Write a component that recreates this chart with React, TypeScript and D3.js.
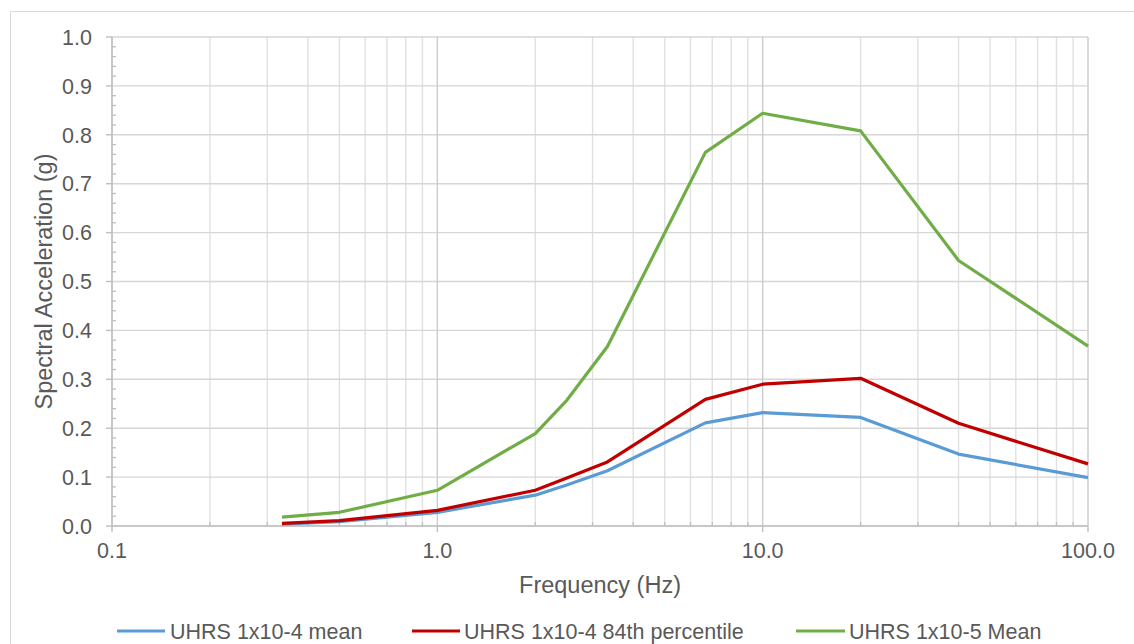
import React from 'react';
import * as d3 from 'd3';

const freqs = [0.333, 0.5, 1.0, 2.0, 2.5, 3.333, 6.667, 10, 20, 40, 100];
const uhrs4Mean = [0.004, 0.009, 0.028, 0.063, 0.084, 0.113, 0.211, 0.232, 0.222, 0.147, 0.099];
const uhrs4P84 = [0.0055, 0.011, 0.032, 0.073, 0.098, 0.131, 0.259, 0.29, 0.302, 0.21, 0.127];
const uhrs5Mean = [0.018, 0.028, 0.073, 0.189, 0.257, 0.367, 0.764, 0.844, 0.808, 0.543, 0.368];

const seriesNames = ['UHRS 1x10-4 mean', 'UHRS 1x10-4 84th percentile', 'UHRS 1x10-5 Mean'];
const seriesColors = ['#5B9BD5', '#C00000', '#70AD47'];
const seriesValues = [uhrs4Mean, uhrs4P84, uhrs5Mean];

const xTickValues = [0.1, 1, 10, 100];
const xTickLabels = ['0.1', '1.0', '10.0', '100.0'];
const yTickValues = [0, 0.1, 0.2, 0.3, 0.4, 0.5, 0.6, 0.7, 0.8, 0.9, 1.0];

const W = 1134;
const H = 644;
const M = { left: 112, right: 1088, top: 37, bottom: 526 };
const FONT = '"Liberation Sans", Arial, sans-serif';
const TXT = '#595959';

export default function App() {
  const x = d3.scaleLog().domain([0.1, 100]).range([M.left, M.right]);
  const y = d3.scaleLinear().domain([0, 1]).range([M.bottom, M.top]);

  const minorX: number[] = [];
  for (let d = 0.1; d < 100; d *= 10) {
    for (let k = 2; k <= 9; k++) minorX.push(d * k);
  }
  const minorY: number[] = d3.range(0, 50).map((i) => i * 0.02).filter((v) => Math.round(v * 50) % 5 !== 0);

  const line = d3
    .line<number>()
    .x((_, i) => x(freqs[i]))
    .y((v) => y(v));

  const legendItems = [
    { x1: 117, x2: 165, tx: 170 },
    { x1: 412, x2: 460, tx: 464 },
    { x1: 796, x2: 845, tx: 849 },
  ];

  return (
    <svg width={W} height={H} style={{ position: 'absolute', left: 0, top: 0, background: '#fff' }} fontFamily={FONT}>
      {/* chart border */}
      <line x1={10.5} y1={11.5} x2={W} y2={11.5} stroke="#d9d9d9" />
      <line x1={10.5} y1={11.5} x2={10.5} y2={H} stroke="#d9d9d9" />

      {/* minor vertical grid */}
      {minorX.map((f, i) => (
        <line key={'mx' + i} x1={x(f)} x2={x(f)} y1={M.top} y2={M.bottom} stroke="#e0e0e0" strokeWidth={1.4} />
      ))}
      {/* horizontal grid */}
      {yTickValues.map((v, i) => (
        <line key={'gy' + i} x1={M.left} x2={M.right} y1={y(v)} y2={y(v)} stroke="#d6d6d6" strokeWidth={1.4} />
      ))}
      {/* major vertical grid */}
      {xTickValues.map((f, i) => (
        <line key={'gx' + i} x1={x(f)} x2={x(f)} y1={M.top} y2={M.bottom} stroke="#cbcbcb" strokeWidth={1.4} />
      ))}

      {/* axes */}
      <line x1={M.left} x2={M.left} y1={M.top} y2={M.bottom} stroke="#bfbfbf" strokeWidth={1.4} />
      <line x1={M.left} x2={M.right} y1={M.bottom} y2={M.bottom} stroke="#bfbfbf" strokeWidth={1.4} />

      {/* y ticks */}
      {yTickValues.map((v, i) => (
        <line key={'yt' + i} x1={M.left - 6} x2={M.left} y1={y(v)} y2={y(v)} stroke="#bfbfbf" strokeWidth={1.4} />
      ))}
      {minorY.map((v, i) => (
        <line key={'ymt' + i} x1={M.left} x2={M.left + 4} y1={y(v)} y2={y(v)} stroke="#bfbfbf" strokeWidth={1.3} />
      ))}
      {/* x ticks */}
      {xTickValues.map((f, i) => (
        <line key={'xt' + i} x1={x(f)} x2={x(f)} y1={M.bottom} y2={M.bottom + 6} stroke="#bfbfbf" strokeWidth={1.4} />
      ))}
      {minorX.map((f, i) => (
        <line key={'xmt' + i} x1={x(f)} x2={x(f)} y1={M.bottom - 4} y2={M.bottom} stroke="#bfbfbf" strokeWidth={1.3} />
      ))}

      {/* tick labels */}
      {yTickValues.map((v, i) => (
        <text key={'yl' + i} x={92} y={y(v)} dy="0.36em" textAnchor="end" fontSize={21.5} fill={TXT}>
          {v.toFixed(1)}
        </text>
      ))}
      {xTickValues.map((f, i) => (
        <text key={'xl' + i} x={x(f)} y={558} textAnchor="middle" fontSize={21.5} fill={TXT}>
          {xTickLabels[i]}
        </text>
      ))}

      {/* axis titles */}
      <text x={(M.left + M.right) / 2} y={593} textAnchor="middle" fontSize={23.5} fill={TXT}>
        Frequency (Hz)
      </text>
      <text
        transform={`translate(52,${(M.top + M.bottom) / 2}) rotate(-90)`}
        textAnchor="middle"
        fontSize={23.5}
        fill={TXT}
      >
        Spectral Acceleration (g)
      </text>

      {/* series */}
      {seriesValues.map((vals, i) => (
        <path key={'s' + i} d={line(vals) || ''} fill="none" stroke={seriesColors[i]} strokeWidth={3.2} strokeLinejoin="round" />
      ))}

      {/* legend */}
      {legendItems.map((it, i) => (
        <g key={'lg' + i}>
          <line x1={it.x1} x2={it.x2} y1={631} y2={631} stroke={seriesColors[i]} strokeWidth={3.2} />
          <text x={it.tx} y={639} fontSize={21.5} fill={TXT}>
            {seriesNames[i]}
          </text>
        </g>
      ))}
    </svg>
  );
}
